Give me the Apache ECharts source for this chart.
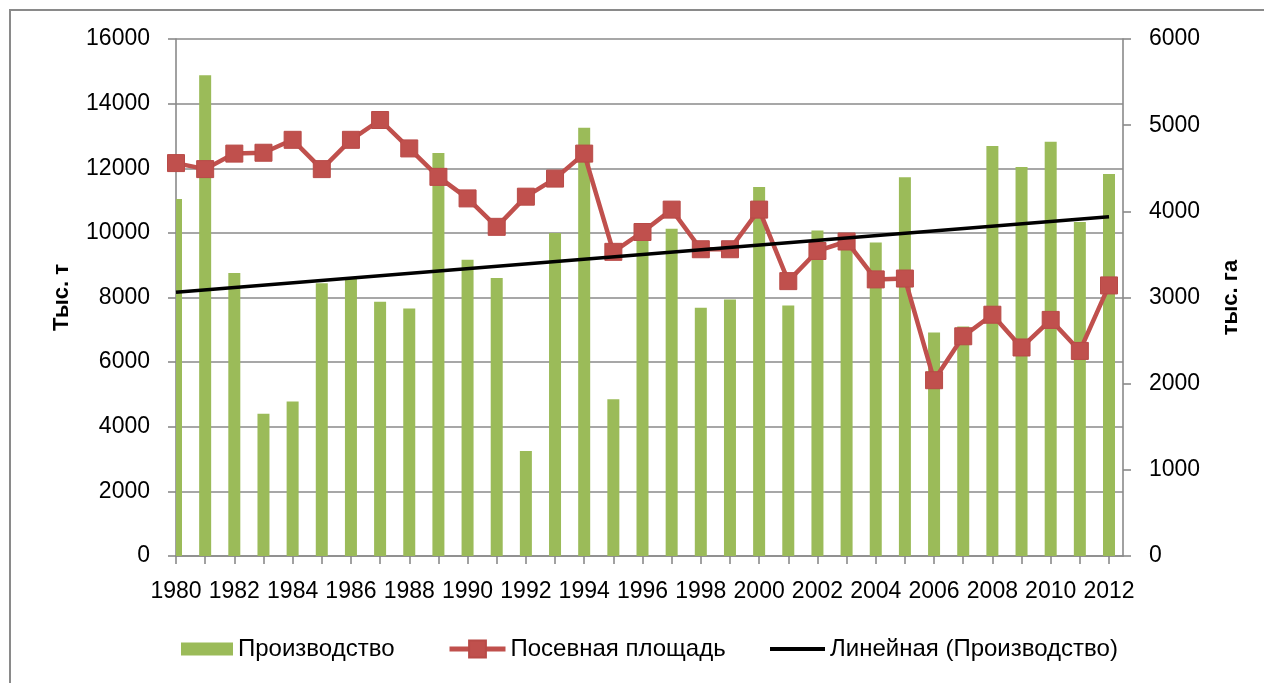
<!DOCTYPE html>
<html>
<head>
<meta charset="utf-8">
<script src="https://cdn.jsdelivr.net/npm/echarts@6/dist/echarts.min.js"></script>
<style>
html,body{margin:0;padding:0;background:#fff;}
#chart{width:1264px;height:683px;}
</style>
</head>
<body>
<div id="chart"></div>
<script>
// ---- data ----
const years = [1980,1981,1982,1983,1984,1985,1986,1987,1988,1989,1990,1991,1992,1993,1994,1995,1996,1997,1998,1999,2000,2001,2002,2003,2004,2005,2006,2007,2008,2009,2010,2011,2012];
const yearLabels = [1980,1982,1984,1986,1988,1990,1992,1994,1996,1998,2000,2002,2004,2006,2008,2010,2012];
const production = [11050,14880,8760,4400,4780,8440,8580,7870,7660,12470,9170,8600,3250,10000,13250,4850,9900,10130,7680,7940,11420,7750,10070,9850,9700,11720,6920,7100,12690,12040,12820,10340,11820];
const sownArea = [4560,4490,4670,4680,4830,4490,4830,5060,4730,4400,4150,3820,4170,4380,4670,3530,3760,4020,3560,3560,4020,3190,3540,3650,3210,3220,2040,2550,2800,2420,2740,2380,3140];
const leftTicks = [0,2000,4000,6000,8000,10000,12000,14000,16000];
const rightTicks = [0,1000,2000,3000,4000,5000,6000];
const names = ['Производство','Посевная площадь','Линейная (Производство)'];

// least-squares trend of production (as Excel's linear trendline)
function linearTrend(xs, ys){
  const n = xs.length;
  let sx=0, sy=0; for(let i=0;i<n;i++){sx+=xs[i]; sy+=ys[i];}
  const mx=sx/n, my=sy/n;
  let sxy=0, sxx=0; for(let i=0;i<n;i++){sxy+=(xs[i]-mx)*(ys[i]-my); sxx+=(xs[i]-mx)*(xs[i]-mx);}
  const b=sxy/sxx, a=my-b*mx;
  return [[xs[0], a+b*xs[0]], [xs[n-1], a+b*xs[n-1]]];
}

const FONT = 'Liberation Sans';
const GRID = '#8a8a8a';
const GREEN = '#9BBB59', RED = '#C0504D';
const BAR_W = 12;
const chart = echarts.init(document.getElementById('chart'), null, {renderer:'canvas'});

function renderBar(params, api){
  const x = api.value(0), v = api.value(1);
  const top = api.coord([x, v]);
  const base = api.coord([x, 0]);
  const cs = params.coordSys;
  const shape = echarts.graphic.clipRectByRect(
    {x: top[0] - BAR_W/2, y: top[1], width: BAR_W, height: base[1] - top[1]},
    {x: cs.x, y: cs.y, width: cs.width, height: cs.height});
  return shape && {type:'rect', shape: shape, style: {fill: GREEN}};
}

const legendText = {fontFamily:FONT, fontSize:24, color:'#000'};
const option = {
  animation:false,
  backgroundColor:'#fff',
  textStyle:{fontFamily:FONT},
  graphic:[{type:'rect', z:-10, shape:{x:10,y:10,width:1300,height:720}, style:{fill:'none', stroke:'#8a8a8a', lineWidth:2}}],
  grid:{left:176, right:141, top:39, bottom:127},
  legend:[
    {left:176, top:632, itemWidth:52, itemHeight:13, itemGap:0,
     data:[{name:names[0], icon:'rect', itemStyle:{color:GREEN}}], textStyle:legendText},
    {left:442, top:632, itemWidth:56, itemHeight:21, itemGap:0,
     lineStyle:{width:5, color:RED}, itemStyle:{color:RED},
     data:[names[1]], textStyle:legendText},
    {left:765, top:632, itemWidth:55, itemHeight:4, itemGap:0,
     data:[{name:names[2], icon:'rect', itemStyle:{color:'#000'}}], textStyle:legendText}
  ],
  xAxis:{
    type:'value', min:1980, max:2012.48, interval:1,
    axisLine:{show:true, lineStyle:{color:GRID, width:1.6}},
    axisTick:{show:true, customValues:years, length:8, lineStyle:{color:GRID, width:1.6}},
    axisLabel:{customValues:yearLabels, fontFamily:FONT, fontSize:23, color:'#000', margin:24, formatter:(v)=>String(v)},
    splitLine:{show:false}
  },
  yAxis:[
    {type:'value', position:'left', min:leftTicks[0], max:leftTicks[leftTicks.length-1], interval:2000,
     name:'Тыс. т', nameLocation:'middle', nameRotate:90, nameGap:103,
     nameTextStyle:{fontFamily:FONT, fontSize:22, fontWeight:'bold', color:'#000'},
     axisLine:{show:true, lineStyle:{color:GRID, width:1.6}},
     axisTick:{show:true, length:8, lineStyle:{color:GRID, width:1.6}},
     axisLabel:{fontFamily:FONT, fontSize:23, color:'#000', margin:26, formatter:(v)=>String(v)},
     splitLine:{show:true, lineStyle:{color:GRID, width:1.6}}},
    {type:'value', position:'right', min:rightTicks[0], max:rightTicks[rightTicks.length-1], interval:1000,
     name:'тыс. га', nameLocation:'middle', nameRotate:90, nameGap:97,
     nameTextStyle:{fontFamily:FONT, fontSize:22, fontWeight:'bold', color:'#000'},
     axisLine:{show:true, lineStyle:{color:GRID, width:1.6}},
     axisTick:{show:true, length:8, lineStyle:{color:GRID, width:1.6}},
     axisLabel:{fontFamily:FONT, fontSize:23, color:'#000', margin:26, formatter:(v)=>String(v)},
     splitLine:{show:false}}
  ],
  series:[
    {name:names[0], type:'custom', yAxisIndex:0, z:1, renderItem:renderBar,
     itemStyle:{color:GREEN}, encode:{x:0, y:1},
     data:years.map((y,i)=>[y, production[i]])},
    {name:names[1], type:'line', yAxisIndex:1, z:3,
     symbol:'rect', symbolSize:17,
     lineStyle:{color:RED, width:4.5},
     itemStyle:{color:RED, borderColor:'#B84A47', borderWidth:1},
     data:years.map((y,i)=>[y, sownArea[i]])},
    {name:names[2], type:'line', yAxisIndex:0, z:4,
     symbol:'none', lineStyle:{color:'#000', width:3.5}, itemStyle:{color:'#000'},
     data:linearTrend(years, production)}
  ]
};
chart.setOption(option);
</script>
</body>
</html>
